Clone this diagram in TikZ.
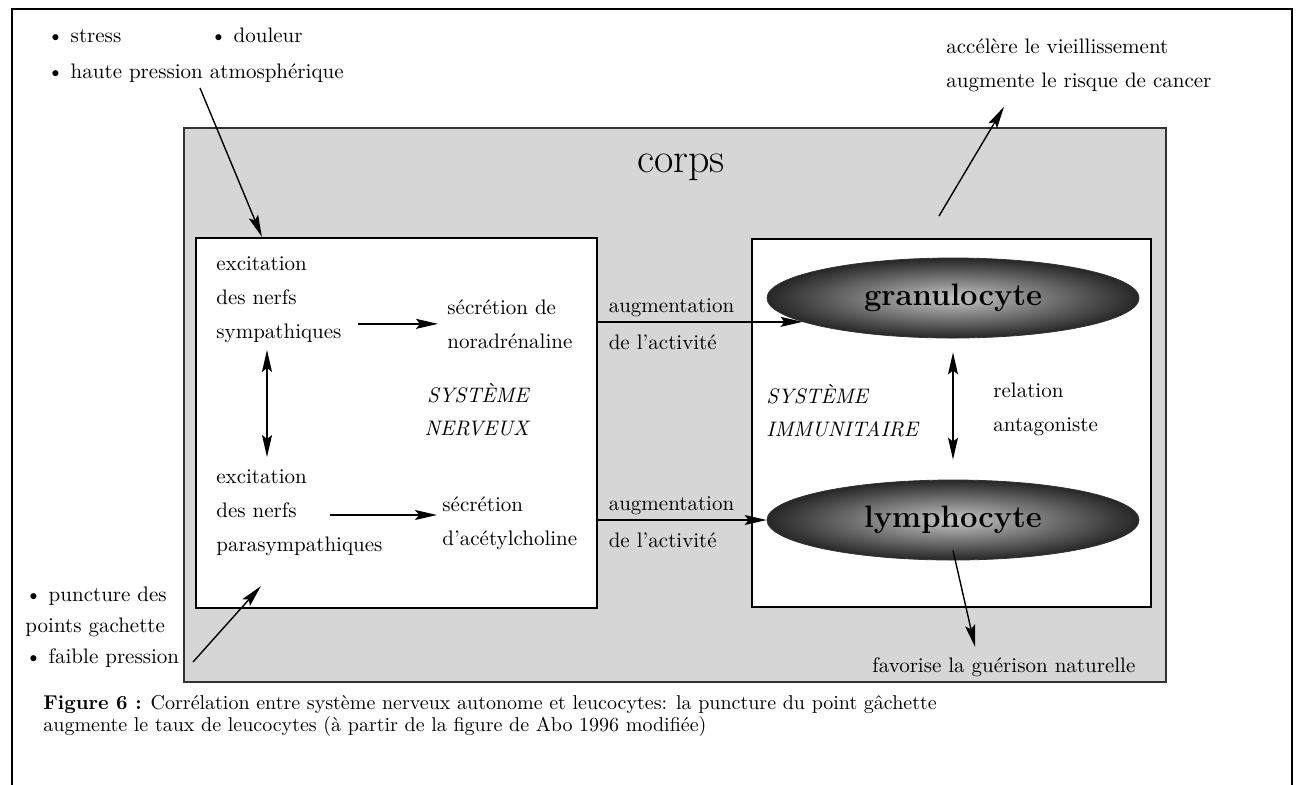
\documentclass[tikz,border=0pt]{standalone}
\usepackage{tikz}
\usetikzlibrary{scopes,shapes.geometric,arrows.meta}

\begin{document}
\begin{tikzpicture}[x=0.5pt,y=-0.5pt,
      txt/.style={inner sep=0pt,align=left,font=\fontsize{10.5}{17}\selectfont},
      sys/.style={txt,font=\fontsize{10.5}{16.5}\selectfont\itshape},
      box/.style={draw=black,fill=white,line width=1.1pt,inner sep=0pt},
      cell/.style={ellipse,draw=black!80,shade,shading=radial,inner color=gray!45,outer color=black!85,
            minimum width=186pt,minimum height=40pt,inner sep=0pt,font=\fontsize{15.5}{15.5}\selectfont\bfseries},
      arr/.style={>={Stealth[length=11pt,width=5pt,inset=2pt]},line width=0.7pt}
]
      \useasboundingbox (0,0) rectangle (1302,784);
      \draw[line width=0.9pt] (12,790) -- (12,9) -- (1292,9) -- (1292,790);

      \node[draw=black!80,fill=gray!32,line width=0.8pt,inner sep=0pt,
            minimum width=491pt,minimum height=277pt] at (675,405) (corps) {};
      \node[font=\fontsize{21}{21}\selectfont,anchor=base] at (681,172) (corpslabel) {corps};
      \node[box,minimum width=200.5pt,minimum height=185pt] at (396.5,423) (nerf) {};
      \node[box,minimum width=199.5pt,minimum height=184pt] at (951.5,423) (immun) {};

      \node[cell] at (953,298) (gran) {granulocyte};
      \node[cell] at (953,520) (lymph) {lymphocyte};

      \node[txt,anchor=base west] at (47,42) (stress) {\textbullet{} stress};
      \node[txt,anchor=base west] at (210,42) (douleur) {\textbullet{} douleur};
      \node[txt,anchor=base west] at (47,78) (haute) {\textbullet{} haute pression atmosphérique};
      \node[txt,anchor=north west] at (946,38) (acc) {accélère le vieillissement\\augmente le risque de cancer};
      \node[txt,font=\fontsize{10.5}{15.5}\selectfont,anchor=north west] at (25,587) (puncture)
            {\textbullet{} puncture des\\points gachette\\\textbullet{} faible pression};
      \node[txt,anchor=base west] at (872,672) (favor) {favorise la guérison naturelle};

      \node[txt,anchor=north west] at (216,256) (symp) {excitation\\des nerfs\\sympathiques};
      \node[txt,anchor=north west] at (447,299) (nora) {sécrétion de\\noradrénaline};
      \node[sys,align=right,anchor=north east] at (529,383) (nerveux) {SYSTÈME\\NERVEUX};
      \node[txt,anchor=north west] at (216,469) (parasym) {excitation\\des nerfs\\parasympathiques};
      \node[txt,anchor=north west] at (442,496) (acet) {sécrétion\\d'acétylcholine};
      \node[sys,anchor=north west] at (766,384) (sysimmun) {SYSTÈME\\IMMUNITAIRE};
      \node[txt,anchor=north west] at (993,383) (relation) {relation\\antagoniste};

      \node[inner sep=0pt,align=left,font=\fontsize{10}{11.2}\selectfont,anchor=north west] at (43,695) (caption)
            {\textbf{Figure 6 :} Corrélation entre système nerveux autonome et leucocytes: la puncture du point gâchette\\
             augmente le taux de leucocytes (à partir de la figure de Abo 1996 modifiée)};

      \coordinate (strfrom) at (200,88);
      \coordinate (punfrom) at (193,662);
      \coordinate (parfrom) at (330,515);
      \coordinate (agefrom) at (939,216);

      {[arr,->]
          \draw[shorten <=8pt,shorten >=4.5pt] (symp.east |- nora.west) -- (nora.west);
          \draw[shorten >=2.5pt] (parfrom) -- (parfrom -| acet.west);
          \draw (nerf.east |- gran.189)
                node[txt,anchor=south west,xshift=5pt,yshift=2pt] (aug1) {augmentation}
                node[txt,anchor=north west,xshift=5pt,yshift=-6pt] (act1) {de l'activité} -- (gran.189);
          \draw (nerf.east |- lymph.west)
                node[txt,anchor=south west,xshift=5pt,yshift=2pt] (aug2) {augmentation}
                node[txt,anchor=north west,xshift=5pt,yshift=-6pt] (act2) {de l'activité} -- (lymph.west);
          \draw (strfrom) -- ([xshift=33.5pt]nerf.north west);
          \draw (punfrom) -- ([xshift=33pt,yshift=11.5pt]nerf.south west);
          \draw (agefrom) -- ([xshift=29pt,yshift=-7.5pt]acc.south west);
          \draw ([yshift=5pt]lymph.south) -- ([xshift=51.5pt,yshift=5pt]favor.north west);
      }
      {[arr,<->]
          \draw[shorten <=3.5pt,shorten >=6pt] ([xshift=25.5pt]symp.south west) -- ([xshift=25.5pt]parasym.north west);
          \draw[shorten <=7pt,shorten >=10pt] (gran.south) -- (lymph.north);
      }
\end{tikzpicture}
\end{document}
